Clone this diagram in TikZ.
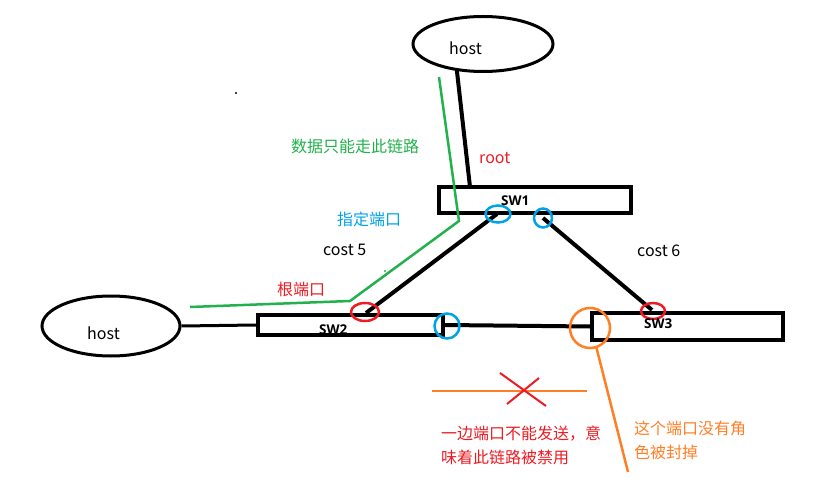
\documentclass[tikz,border=0pt]{standalone}
\usepackage{fontspec}
\setmainfont{Noto Sans CJK SC}
\newfontfamily\swfont{Open Sans}
\definecolor{pgreen}{RGB}{34,177,76}
\definecolor{pblue}{RGB}{0,162,232}
\definecolor{pred}{RGB}{237,28,36}
\definecolor{porange}{RGB}{255,127,39}
\tikzset{
  hostnode/.style={ellipse, draw=black, line width=3pt, fill=white},
  swbox/.style={rectangle, draw=black, line width=4pt, fill=white, inner sep=0pt},
  blk/.style={draw=black, line width=4pt},
  txt/.style={anchor=base west, inner sep=0pt, font=\fontsize{16}{20}\selectfont},
  swtxt/.style={anchor=base west, inner sep=0pt, font=\fontsize{13.5}{15}\swfont\bfseries},
  bport/.style={ellipse, draw=pblue, line width=2.5pt, inner sep=0pt},
  rport/.style={ellipse, draw=pred, line width=2.5pt, inner sep=0pt},
}
\usetikzlibrary{shapes.geometric}
\begin{document}
\begin{tikzpicture}[x=1pt,y=-1pt]
\useasboundingbox (0,0) rectangle (826,502);
% hosts
\node[hostnode, minimum width=140pt, minimum height=55pt] (htop) at (483,44) {};
\node[hostnode, minimum width=138pt, minimum height=60pt] (hleft) at (111,326) {};
% switches
\node[swbox, minimum width=192pt, minimum height=26pt] (sw1) at (535,200) {};
\node[swbox, minimum width=185pt, minimum height=20pt] (sw2) at (350.5,325) {};
\node[swbox, minimum width=191pt, minimum height=27pt] (sw3) at (687.5,326.5) {};
% connection points
\coordinate (t1) at (470,187);
\coordinate (a1) at (497,214);
\coordinate (a2) at (366,313);
\coordinate (b1) at (543,218);
\coordinate (b2) at (652,310);
% links
\draw[blk] (htop.226) -- (t1);
\draw[blk] (a1) -- (a2);
\draw[blk] (b1) -- (b2);
\draw[blk, line width=3pt] (hleft.east) -- (sw2.west);
\draw[blk] (sw2.east) -- (sw3.west);
% port marks
\node[bport, minimum width=25pt, minimum height=17pt] (p1) at (498,214) {};
\node[bport, minimum width=18pt, minimum height=19pt] (p2) at (543,218) {};
\node[rport, minimum width=28pt, minimum height=18pt] (p3) at (365,312) {};
\node[bport, minimum width=25pt, minimum height=25pt] (p4) at (447,326) {};
\node[rport, minimum width=24pt, minimum height=16pt] (p5) at (653,311) {};
\node[circle, draw=porange, line width=2.5pt, minimum size=40pt, inner sep=0pt] (oc) at (590,328) {};
% green route
\coordinate (g1) at (439,77);
\coordinate (g2) at (459,221);
\coordinate (g3) at (350,301);
\coordinate (g4) at (190,307);
\draw[pgreen, line width=2.5pt] (g1) -- (g2) -- (g3) -- (g4);
% orange pointer and crossed line
\coordinate (o1) at (628,472);
\draw[porange, line width=2.5pt] (oc.288) -- (o1);
\coordinate (h1) at (432,391);
\coordinate (h2) at (587,391);
\draw[porange, line width=2.5pt] (h1) -- (h2);
\coordinate (x1) at (500,373);
\coordinate (x2) at (546,406);
\coordinate (x3) at (539,378);
\coordinate (x4) at (507,404);
\draw[pred, line width=2pt] (x1) -- (x2);
\draw[pred, line width=2pt] (x3) -- (x4);
% stray dots
\fill[black] (236,93) circle (1.2pt);
\fill[pgreen] (385,271) circle (1.2pt);
% texts
\node[txt] (th) at (449,55) {host};
\node[txt] (lh) at (87,339) {host};
\node[swtxt] (l1) at (501,206) {SW1};
\node[swtxt] (l2) at (319,334) {SW2};
\node[swtxt] (l3) at (644,328) {SW3};
\node[txt, text=pred] (root) at (479,164) {root};
\node[txt] (c5) at (323,256) {cost 5};
\node[txt] (c6) at (637,257) {cost 6};
\node[txt, text=pgreen] (tg) at (291,153) {数据只能走此链路};
\node[txt, text=pblue] (tb) at (337,226) {指定端口};
\node[txt, text=pred] (tr) at (277,295) {根端口};
\node[txt, text=pred] (tr1) at (441,439) {一边端口不能发送，意};
\node[txt, text=pred] (tr2) at (441,463) {味着此链路被禁用};
\node[txt, text=porange] (to1) at (634,434) {这个端口没有角};
\node[txt, text=porange] (to2) at (634,458) {色被封掉};
\end{tikzpicture}
\end{document}
